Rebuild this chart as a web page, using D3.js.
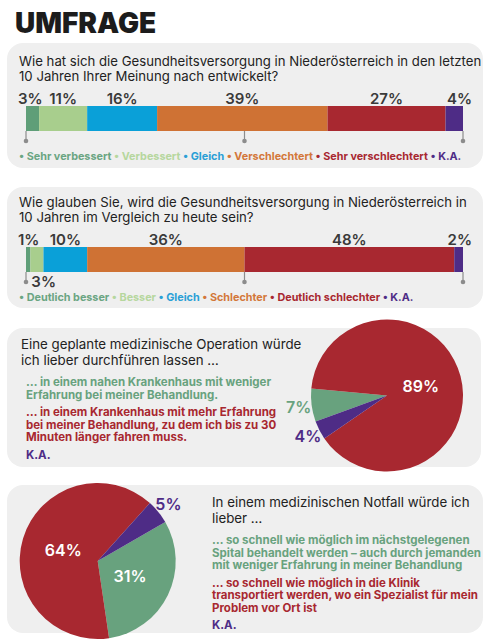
<!DOCTYPE html>
<html>
<head>
<meta charset="utf-8">
<script src="https://cdn.jsdelivr.net/npm/d3@7"></script>
<style>
    body { margin: 0; background: #fff; }
    svg { display: block; font-family: Inter, "Open Sans", sans-serif; }
</style>
</head>
<body>
<div id="chart"></div>
<script>
"use strict"

// --- data ---
const title = "UMFRAGE";

const q1Question = ["Wie hat sich die Gesundheitsversorgung in Niederösterreich in den letzten",
                    "10 Jahren Ihrer Meinung nach entwickelt?"];
const q1Categories = ["Sehr verbessert", "Verbessert", "Gleich", "Verschlechtert", "Sehr verschlechtert", "K.A."];
const q1Values = [3, 11, 16, 39, 27, 4];

const q2Question = ["Wie glauben Sie, wird die Gesundheitsversorgung in Niederösterreich in",
                    "10 Jahren im Vergleich zu heute sein?"];
const q2Categories = ["Deutlich besser", "Besser", "Gleich", "Schlechter", "Deutlich schlechter", "K.A."];
const q2Values = [1, 3, 10, 36, 48, 2];

const barColors = ["#5f9e78", "#a8ce8d", "#0aa0d8", "#cf7234", "#a82830", "#4e2c86"];
const legendColors = ["#6aa582", "#b6d79e", "#2a9fd6", "#d3773a", "#a82830", "#4e2c86"];
const percentTicks = [0, 50, 100];

const q3Question = ["Eine geplante medizinische Operation würde", "ich lieber durchführen lassen …"];
const q3Answers = [
    ["… in einem nahen Krankenhaus mit weniger", "Erfahrung bei meiner Behandlung."],
    ["… in einem Krankenhaus mit mehr Erfahrung", "bei meiner Behandlung, zu dem ich bis zu 30", "Minuten länger fahren muss."],
    ["K.A."]
];
const q3Values = [7, 89, 4];

const q4Question = ["In einem medizinischen Notfall würde ich", "lieber …"];
const q4Answers = [
    ["… so schnell wie möglich im nächstgelegenen", "Spital behandelt werden – auch durch jemanden", "mit weniger Erfahrung in meiner Behandlung"],
    ["… so schnell wie möglich in die Klinik", "transportiert werden, wo ein Spezialist für mein", "Problem vor Ort ist"],
    ["K.A."]
];
const q4Values = [31, 64, 5];

const pieColors = ["#68a27e", "#a82830", "#4e2c86"];

// --- drawing ---
const width = 490, height = 640;

const svg = d3.select("#chart").append("svg")
    .attr("width", width)
    .attr("height", height);

svg.append("text")
    .attr("x", 15)
    .attr("y", 33)
    .style("font-size", "28px")
    .style("font-weight", 900)
    .style("fill", "#1c1c1c")
    .text(title);

function drawPanel(y0, y1, x1) {
    svg.append("rect")
        .attr("x", 7)
        .attr("y", y0)
        .attr("width", (x1 || 483) - 7)
        .attr("height", y1 - y0)
        .attr("rx", 16)
        .style("fill", "#efefef");
}

// one text element per line
function drawLines(g, lines, x, y, lineHeight, size, weight, color) {
    lines.forEach((line, i) => {
        g.append("text")
            .attr("x", x)
            .attr("y", y + i * lineHeight)
            .style("font-size", size + "px")
            .style("font-weight", weight)
            .style("fill", color)
            .text(line);
    });
}

/* stacked 100% bar with labels, ticks and legend */
function drawBar(question, categories, values, top) {
    let g = svg.append("g");

    drawLines(g, question, 19, top, 14.5, 13.2, 400, "#222");

    let barTop = top + 40;
    let barH = 25;
    let x = d3.scaleLinear().domain([0, 100]).range([26, 463]);
    let ends = d3.cumsum(values);

    let segs = values.map((v, i) => ({ v: v, i: i, start: ends[i] - v, end: ends[i] }));

    g.selectAll(".seg").data(segs).enter().append("rect")
        .attr("x", d => x(d.start))
        .attr("y", barTop)
        .attr("width", d => x(d.end) - x(d.start))
        .attr("height", barH)
        .style("fill", d => barColors[d.i]);

    segs.forEach(d => {
        let x0 = x(d.start), x1 = x(d.end);
        let lx = (x0 + x1) / 2, ly = barTop - 2, anchor = "middle";
        if (d.i === 0) {
            lx = x(0) - 8; anchor = "start";
        } else if (d.i === segs.length - 1) {
            lx = x(100) + 9; anchor = "end";
        } else if (x1 - x0 < 20) {
            // too narrow, goes under the bar
            lx = x0 + 1; anchor = "start"; ly = barTop + barH + 15;
        }
        g.append("text")
            .attr("x", lx)
            .attr("y", ly)
            .style("text-anchor", anchor)
            .style("font-size", "15px")
            .style("font-weight", 600)
            .style("fill", "#3a3a3a")
            .text(d.v + "%");
    });

    // 0 / 50 / 100 markers
    percentTicks.forEach(p => {
        g.append("line")
            .attr("x1", x(p)).attr("x2", x(p))
            .attr("y1", barTop + barH).attr("y2", barTop + barH + 10)
            .style("stroke", "#8c8c8c")
            .style("stroke-width", 1.2);
        g.append("circle")
            .attr("cx", x(p))
            .attr("cy", barTop + barH + 10)
            .attr("r", 2.3)
            .style("fill", "#8c8c8c");
    });

    let legend = g.append("text")
        .attr("x", 19)
        .attr("y", barTop + barH + 29)
        .style("font-size", "10.8px")
        .style("font-weight", 700);
    categories.forEach((c, i) => {
        legend.append("tspan")
            .style("fill", legendColors[i])
            .text((i ? " " : "") + "\u2022 " + c);
    });
}

/* pie chart with answer texts */
function drawPie(question, answers, values, cx, cy, r, startDeg, textX, answerX, textY) {
    let g = svg.append("g");

    drawLines(g, question, textX, textY, 15.5, 13.3, 400, "#222");

    let y = textY + 37;
    answers.forEach((lines, i) => {
        drawLines(g, lines, answerX, y, 12.6, 11.5, 700, pieColors[i]);
        y += (lines.length - 1) * 12.6 + 17.5;
    });

    let a0 = startDeg * Math.PI / 180;
    let pie = d3.pie().sort(null).value(d => d)
        .startAngle(a0).endAngle(a0 + 2 * Math.PI);
    let arc = d3.arc().innerRadius(0).outerRadius(r);
    let arcs = pie(values);

    let pg = g.append("g").attr("transform", "translate(" + cx + "," + cy + ")");

    pg.selectAll("path").data(arcs).enter().append("path")
        .attr("d", arc)
        .style("fill", (d, i) => pieColors[i]);

    arcs.forEach((d, i) => {
        let inside = d.data > 20;
        let lr = inside ? r * 0.46 : r + 13;
        let pos = d3.arc().innerRadius(lr).outerRadius(lr).centroid(d);
        pg.append("text")
            .attr("x", pos[0])
            .attr("y", pos[1])
            .attr("dy", "0.36em")
            .style("text-anchor", "middle")
            .style("font-size", "16px")
            .style("font-weight", 600)
            .style("fill", inside ? "#fff" : pieColors[i])
            .text(d.data + "%");
    });
}

drawPanel(43, 168);
drawBar(q1Question, q1Categories, q1Values, 66);

drawPanel(187, 308);
drawBar(q2Question, q2Categories, q2Values, 207);

drawPanel(328, 467, 481);
drawPie(q3Question, q3Answers, q3Values, 387, 395.5, 76, -110, 21, 26, 349);

drawPanel(485, 633);
drawPie(q4Question, q4Answers, q4Values, 97.7, 561, 78, 60, 212, 212, 507);
</script>
</body>
</html>
